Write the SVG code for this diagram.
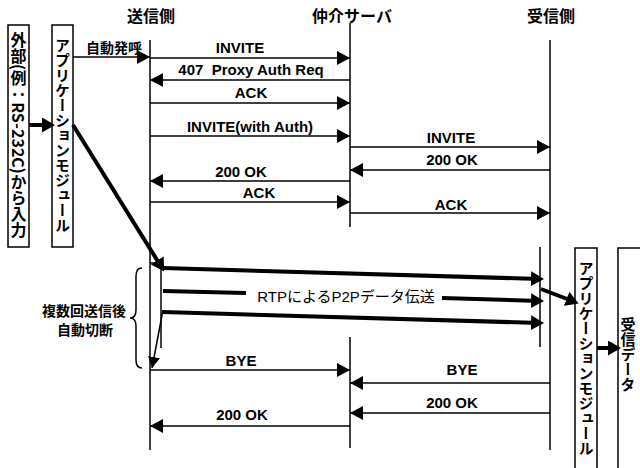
<svg xmlns="http://www.w3.org/2000/svg" width="640" height="468" viewBox="0 0 640 468">
<defs>
<marker id="ah" markerUnits="userSpaceOnUse" markerWidth="14" markerHeight="14" refX="13" refY="7" orient="auto" viewBox="0 0 14 14"><path d="M0,0 L13,7 L0,14 z" fill="#000"/></marker>
<marker id="ahT" markerUnits="userSpaceOnUse" markerWidth="14" markerHeight="15" refX="9" refY="7.5" orient="auto" viewBox="0 0 14 15"><path d="M0,0 L13,7.5 L0,15 z" fill="#000"/></marker>
<marker id="ahS" markerUnits="userSpaceOnUse" markerWidth="12" markerHeight="12" refX="11" refY="6" orient="auto" viewBox="0 0 12 12"><path d="M0,0 L11,6 L0,12 z" fill="#000"/></marker>
</defs>
<style>
.life{stroke:#000;stroke-width:1.5;fill:none}
.msg{stroke:#000;stroke-width:1.5;fill:none;marker-end:url(#ah)}
.thick{stroke:#000;stroke-width:4;fill:none}
.thickA{stroke:#000;stroke-width:4;fill:none;marker-end:url(#ahT)}
.box{fill:#fff;stroke:#000;stroke-width:1.5}
.lbl{font-family:"Liberation Sans","Noto Sans CJK JP",sans-serif;font-weight:bold;font-size:15px;text-anchor:middle;fill:#000}
.jp{font-family:"Noto Sans CJK JP","Liberation Sans",sans-serif;font-weight:bold;font-size:14px;text-anchor:middle;fill:#000}
.hdr{font-family:"Noto Sans CJK JP","Liberation Sans",sans-serif;font-weight:bold;font-size:16px;text-anchor:middle;fill:#000}
.vt{font-family:"Noto Sans CJK JP","Liberation Sans",sans-serif;font-weight:bold;font-size:15px;writing-mode:vertical-rl;text-anchor:middle;fill:#000}
.rtp{font-family:"Liberation Sans","Noto Sans CJK JP",sans-serif;font-size:15px;text-anchor:middle;fill:#000}
</style>
<rect width="640" height="468" fill="#fff"/>

<g id="sender">
<text class="hdr" x="151" y="22">送信側</text>
<line class="life" x1="150" y1="40" x2="150" y2="450"/>
</g>
<g id="proxy">
<text class="hdr" x="352" y="22">仲介サーバ</text>
<line class="life" x1="350" y1="23" x2="350" y2="227"/>
<line class="life" x1="350" y1="337" x2="350" y2="448"/>
</g>
<g id="receiver">
<text class="hdr" x="551" y="22">受信側</text>
<line class="life" x1="550" y1="40" x2="550" y2="450"/>
</g>

<g id="ext-input">
<rect class="box" x="8" y="25" width="21" height="222"/>
<text class="vt" x="18.5" y="135" style="font-size:16px">外部(例：RS-232C)から入力</text>
</g>
<g id="app-module-send">
<rect class="box" x="52" y="25" width="21" height="222"/>
<text class="vt" x="62.5" y="135">アプリケーションモジュール</text>
</g>
<g id="app-module-recv">
<rect class="box" x="575" y="248" width="22" height="230"/>
<text class="vt" x="586" y="358">アプリケーションモジュール</text>
</g>
<g id="recv-data">
<rect class="box" x="618" y="248" width="26" height="230"/>
<text class="vt" x="628" y="354">受信データ</text>
</g>

<g id="connectors">
<line class="thickA" x1="29" y1="125" x2="51" y2="125"/>
<line class="msg" x1="73" y1="57" x2="150" y2="57"/>
<text class="jp" x="114" y="53">自動発呼</text>
<line class="thickA" x1="73" y1="125" x2="162" y2="268"/>

<line class="msg" x1="150" y1="58" x2="350" y2="58"/>
<text class="lbl" x="240" y="53">INVITE</text>
<line class="msg" x1="350" y1="80" x2="150" y2="80"/>
<text class="lbl" x="251" y="75" xml:space="preserve">407  Proxy Auth Req</text>
<line class="msg" x1="150" y1="103" x2="350" y2="103"/>
<text class="lbl" x="251" y="98">ACK</text>
<line class="msg" x1="150" y1="136" x2="350" y2="136"/>
<text class="lbl" x="250" y="132">INVITE(with Auth)</text>
<line class="msg" x1="350" y1="147" x2="550" y2="147"/>
<text class="lbl" x="451" y="143">INVITE</text>
<line class="msg" x1="550" y1="170" x2="350" y2="170"/>
<text class="lbl" x="452" y="165">200 OK</text>
<line class="msg" x1="350" y1="181" x2="150" y2="181"/>
<text class="lbl" x="241" y="177">200 OK</text>
<line class="msg" x1="150" y1="202" x2="350" y2="202"/>
<text class="lbl" x="259" y="198">ACK</text>
<line class="msg" x1="350" y1="213" x2="550" y2="213"/>
<text class="lbl" x="451" y="210">ACK</text>

<line class="life" x1="150" y1="263" x2="162" y2="263"/>
<line class="life" x1="161" y1="267" x2="161" y2="348"/>
<line class="life" x1="540" y1="247" x2="540" y2="347"/>
<line class="thickA" x1="163" y1="268" x2="540" y2="279"/>
<line class="thick" x1="163" y1="291" x2="246" y2="293"/>
<text class="rtp" x="346" y="302">RTPによるP2Pデータ伝送</text>
<line class="thickA" x1="442" y1="298" x2="540" y2="301"/>
<line class="thickA" x1="163" y1="312" x2="540" y2="323"/>
<line class="thickA" x1="541" y1="289" x2="575" y2="302"/>
<line class="thickA" x1="597" y1="348" x2="617" y2="348"/>
<line stroke="#000" stroke-width="1.5" fill="none" marker-end="url(#ahS)" x1="163" y1="310" x2="152" y2="368"/>

<path d="M142,268 Q136,268 136,276 L136,310 Q136,318 130,318 Q136,318 136,326 L136,360 Q136,368 142,368" stroke="#000" stroke-width="1.5" fill="none"/>
<text class="jp" x="84" y="316">複数回送信後</text>
<text class="jp" x="85" y="335">自動切断</text>

<line class="msg" x1="150" y1="370" x2="350" y2="370"/>
<text class="lbl" x="241" y="366">BYE</text>
<line class="msg" x1="550" y1="383" x2="350" y2="383"/>
<text class="lbl" x="462" y="375">BYE</text>
<line class="msg" x1="550" y1="413" x2="350" y2="413"/>
<text class="lbl" x="452" y="408">200 OK</text>
<line class="msg" x1="350" y1="426" x2="150" y2="426"/>
<text class="lbl" x="242" y="420">200 OK</text>
</g>
</svg>
